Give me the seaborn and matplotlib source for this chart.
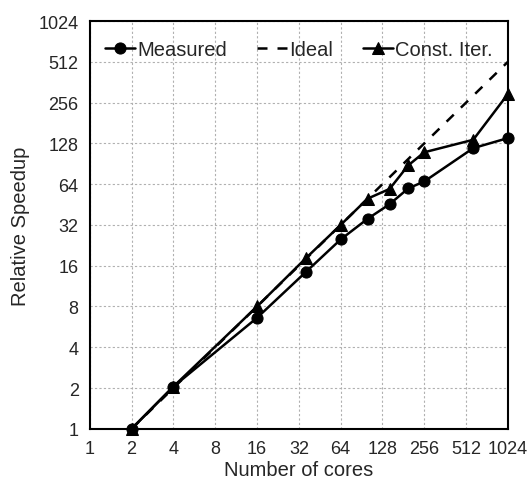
import matplotlib
matplotlib.use("Agg")
import matplotlib.pyplot as plt
import pandas as pd
import seaborn as sns

# data
cores = [2, 4, 16, 36, 64, 100, 144, 196, 256, 576, 1024]
measured = [1, 2.05, 6.6, 14.4, 25, 35.5, 45.5, 59.5, 67, 118, 140]
const_iter = [1, 2.05, 8.0, 18.2, 32, 50, 59, 88, 110, 136, 296]
ideal = [c / 2 for c in cores]
ticks = [1, 2, 4, 8, 16, 32, 64, 128, 256, 512, 1024]

df = pd.DataFrame({"cores": cores, "Measured": measured,
                   "Ideal": ideal, "Const. Iter.": const_iter})

sns.set_style("white")
plt.rcParams['font.family'] = ['Liberation Sans', 'DejaVu Sans']

fig, ax = plt.subplots(figsize=(5.28, 4.89), dpi=100)
fig.subplots_adjust(left=0.170, right=0.962, bottom=0.121, top=0.955)

common = dict(ax=ax, color="black", linewidth=1.8, clip_on=False)
sns.lineplot(data=df, x="cores", y="Measured", marker="o", markersize=8,
             markeredgecolor="black", label="Measured", **common)
sns.lineplot(data=df, x="cores", y="Ideal", linestyle=(0, (4, 4)),
             label="Ideal", **common)
sns.lineplot(data=df, x="cores", y="Const. Iter.", marker="^", markersize=8,
             markeredgecolor="black", label="Const. Iter.", **common)

ax.set_xscale("log", base=2)
ax.set_yscale("log", base=2)
ax.set_xlim(1, 1024)
ax.set_ylim(1, 1024)
ax.set_xticks(ticks)
ax.set_xticklabels([str(t) for t in ticks])
ax.set_yticks(ticks)
ax.set_yticklabels([str(t) for t in ticks])
ax.minorticks_off()
ax.tick_params(axis="both", labelsize=13, length=0, pad=8)
ax.grid(True, color="#b0b0b0", linestyle=(0, (2, 2)), linewidth=0.8)
for s in ax.spines.values():
    s.set_color("black")
    s.set_linewidth(1.5)

ax.set_xlabel("Number of cores", fontsize=14.5, labelpad=2)
ax.set_ylabel("Relative Speedup", fontsize=14.5, labelpad=6)

ax.legend(loc="upper center", ncol=3, frameon=False, fontsize=14.5,
          handlelength=1.5, handletextpad=0.1, columnspacing=1.5,
          bbox_to_anchor=(0.5, 0.998))

fig.savefig("out.png", dpi=100)
